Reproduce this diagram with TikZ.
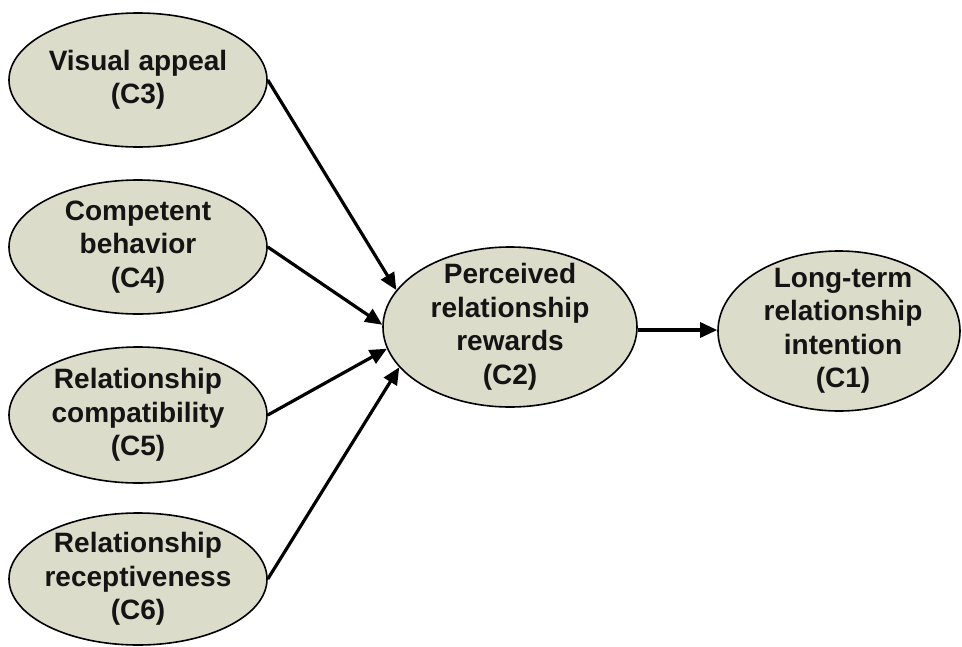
\documentclass[tikz,border=0pt]{standalone}
\usepackage{fontspec}
\setmainfont{Liberation Sans}
\usetikzlibrary{shapes.geometric,arrows.meta}
\definecolor{fillc}{RGB}{219,220,202}
\definecolor{textc}{RGB}{20,20,20}
\begin{document}
\begin{tikzpicture}[x=1pt,y=-1pt,
  oval/.style={ellipse, draw=black, line width=1.6pt, fill=fillc, inner sep=0pt},
  lbl/.style={align=center, font=\fontsize{28}{33.5}\selectfont\bfseries, text=textc, inner sep=0pt},
  conn/.style={line width=3.2pt, -{Triangle[length=17pt,width=15pt]}}]
\useasboundingbox (0,0) rectangle (962,646);
% left column
\node[oval, minimum width=258pt, minimum height=134pt] (c3) at (138,80) {};
\node[lbl] (t3) at (c3) {Visual appeal\\(C3)};
\node[oval, minimum width=258pt, minimum height=134pt] (c4) at (138,247) {};
\node[lbl] (t4) at (c4) {Competent\\behavior\\(C4)};
\node[oval, minimum width=258pt, minimum height=136pt] (c5) at (138,415) {};
\node[lbl] (t5) at (c5) {Relationship\\compatibility\\(C5)};
\node[oval, minimum width=258pt, minimum height=132pt] (c6) at (138,579) {};
\node[lbl] (t6) at (c6) {Relationship\\receptiveness\\(C6)};
% middle
\node[oval, minimum width=254pt, minimum height=160pt] (c2) at (510,327) {};
\node[lbl] (t2) at (c2) {Perceived\\relationship\\rewards\\(C2)};
% right
\node[oval, minimum width=242pt, minimum height=160pt] (c1) at (839,331) {};
\node[lbl] (t1) at ([xshift=4pt]c1) {Long-term\\relationship\\intention\\(C1)};
% connectors
\draw[conn] (c3.east) -- (c2.162);
\draw[conn] (c4.east) -- (c2.179);
\draw[conn] (c5.east) -- (c2.190);
\draw[conn] (c6.east) -- (c2.200);
\draw[conn] (c2.east |- 0,330) -- (c1.west |- 0,330);
\end{tikzpicture}
\end{document}
